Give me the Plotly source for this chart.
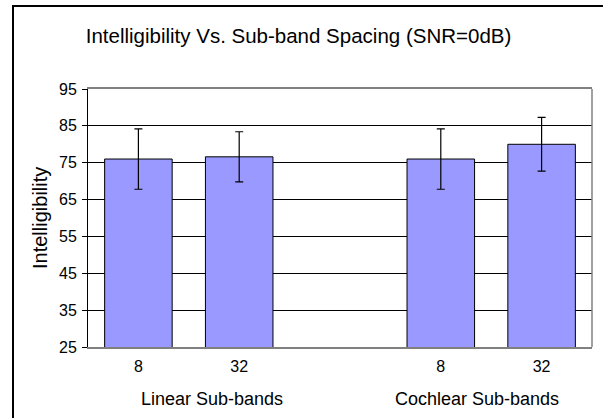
import plotly.graph_objects as go

# Data
groups = ["Linear Sub-bands", "Cochlear Sub-bands"]
bands = ["8", "32", "8", "32"]
positions = [0, 1, 3, 4]          # category slots (slot 2 left empty between groups)
group_centers = [0.73, 3.36]
values = [76.0, 76.6, 76.0, 80.0]
errors = [8.2, 6.8, 8.2, 7.3]
y_ticks = [25, 35, 45, 55, 65, 75, 85, 95]

FONT = "Liberation Sans, Arial, sans-serif"

W, H = 603, 418
fig = go.Figure()
fig.add_trace(go.Bar(
    x=positions, y=values, width=0.67,
    marker=dict(color="#9999FF", line=dict(color="#000000", width=1)),
    error_y=dict(type="data", array=errors, visible=True, color="#000000",
                 thickness=1.2, width=4),
))

fig.update_layout(
    width=W, height=H,
    margin=dict(l=88, r=11, t=89, b=71, autoexpand=False),
    paper_bgcolor="white", plot_bgcolor="white",
    showlegend=False,
    font=dict(family=FONT, color="#000000"),
    title=dict(text="Intelligibility Vs. Sub-band Spacing (SNR=0dB)",
               x=0.5 - 3 / W, xanchor="center", y=1 - 36 / H, yanchor="middle",
               yref="container", font=dict(size=20.5, family=FONT, color="#000")),
    xaxis=dict(range=[-0.5, 4.5], tickmode="array", tickvals=positions,
               ticktext=bands, showgrid=False, zeroline=False, automargin=False,
               showline=True, linecolor="#808080", linewidth=1.5, mirror=True,
               ticks="", ticklabelstandoff=4,
               tickfont=dict(size=16, family=FONT, color="#000")),
    yaxis=dict(range=[25, 95], tickmode="array", tickvals=y_ticks, automargin=False,
               showgrid=True, gridcolor="#000000", gridwidth=1,
               zeroline=False, showline=True, linecolor="#000000", linewidth=1,
               ticks="outside", ticklen=5, tickcolor="#000000", ticklabelstandoff=2,
               tickfont=dict(size=16, family=FONT, color="#000")),
)

# gray right edge of plot area
fig.add_shape(type="line", xref="paper", yref="paper", x0=1, x1=1, y0=0, y1=1,
              line=dict(color="#808080", width=1.5), layer="above")
# outer chart border (left/top visible)
fig.add_shape(type="rect", xref="paper", yref="paper",
              x0=(13 - 88) / 504, x1=(640 - 88) / 504,
              y0=(347 - 460) / 258, y1=(347 - 6) / 258,
              line=dict(color="#000000", width=2), layer="above")

# y axis title
fig.add_annotation(text="Intelligibility", xref="paper", yref="paper",
                   x=(40 - 88) / 504, y=0.5, textangle=-90, showarrow=False,
                   xanchor="center", yanchor="middle",
                   font=dict(size=20, family=FONT, color="#000"))
# group labels
for g, c in zip(groups, group_centers):
    fig.add_annotation(text=g, xref="x", yref="paper", x=c,
                       y=(347 - 399) / 258, showarrow=False,
                       xanchor="center", yanchor="middle",
                       font=dict(size=18, family=FONT, color="#000"))

fig.write_html("out.html",
               config={"displayModeBar": False},
               post_script="document.body.style.margin='0';document.body.style.overflow='hidden';")
